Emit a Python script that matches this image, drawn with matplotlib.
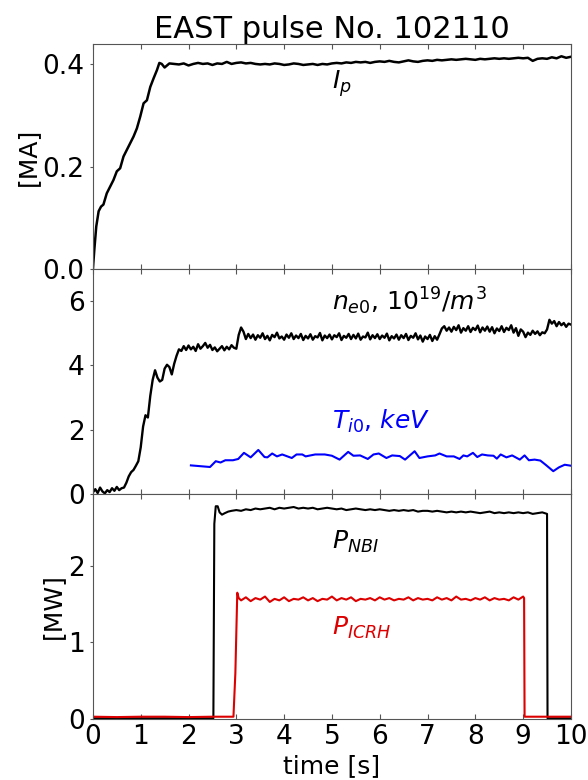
import numpy as np
import matplotlib
matplotlib.use("Agg")
import matplotlib.pyplot as plt

# plasma current, MA
ip_ramp_t = [0, 0.03, 0.07, 0.12, 0.17, 0.22, 0.29, 0.36, 0.43, 0.50, 0.57, 0.64,
             0.71, 0.78, 0.85, 0.92, 0.99, 1.06, 1.13, 1.20, 1.27, 1.34, 1.39, 1.44]
ip_ramp = [0, 0.038, 0.083, 0.113, 0.122, 0.126, 0.148, 0.161, 0.174, 0.191, 0.197, 0.220,
           0.233, 0.246, 0.259, 0.275, 0.298, 0.324, 0.330, 0.356, 0.373, 0.389, 0.403, 0.401]
ip_flat = [0.394, 0.402, 0.401, 0.400, 0.402, 0.398, 0.401, 0.403, 0.401, 0.402,
           0.399, 0.402, 0.401, 0.405, 0.401, 0.403, 0.404, 0.402, 0.403, 0.401,
           0.400, 0.401, 0.400, 0.402, 0.401, 0.399, 0.400, 0.402, 0.401, 0.399,
           0.400, 0.401, 0.399, 0.401, 0.400, 0.402, 0.403, 0.402, 0.404, 0.403,
           0.405, 0.404, 0.405, 0.403, 0.405, 0.406, 0.405, 0.407, 0.405, 0.404,
           0.406, 0.408, 0.406, 0.405, 0.407, 0.408, 0.407, 0.409, 0.408, 0.409,
           0.410, 0.409, 0.410, 0.411, 0.410, 0.409, 0.411, 0.410, 0.411, 0.412,
           0.411, 0.412, 0.411, 0.412, 0.413, 0.412, 0.413, 0.407, 0.411, 0.412,
           0.411, 0.414, 0.412, 0.416, 0.413, 0.415]
ip_flat_t = np.linspace(1.5, 10.0, len(ip_flat))

# central density, 1e19 m^-3 (0.05 s samples)
ne0 = [0.05, 0.15, 0.03, 0.20, 0.08, 0.02, 0.12, 0.06, 0.18, 0.10,
       0.22, 0.12, 0.18, 0.20, 0.35, 0.55, 0.68, 0.75, 0.88, 1.02,
       1.45, 2.10, 2.45, 2.38, 3.05, 3.55, 3.85, 3.62, 3.50, 3.55,
       3.90, 4.02, 3.95, 3.72, 4.05, 4.30, 4.50, 4.45, 4.60, 4.48,
       4.62, 4.50, 4.58, 4.45, 4.66, 4.52, 4.60, 4.70, 4.55, 4.64,
       4.48, 4.56, 4.44, 4.52, 4.60, 4.47, 4.58, 4.50, 4.63, 4.55,
       4.52, 4.95, 5.18, 5.05, 4.82, 4.98, 4.85, 4.96, 4.80, 4.94,
       4.86, 5.00, 4.82, 4.92, 4.78, 4.95, 4.88, 5.02, 4.84, 4.90,
       4.80, 4.96, 4.86, 5.00, 4.82, 4.93, 4.85, 4.98, 4.79, 4.92,
       4.84, 4.97, 4.80, 4.91, 4.87, 5.01, 4.78, 4.93, 4.85, 4.96,
       4.81, 4.94, 4.88, 5.00, 4.79, 4.92, 4.86, 4.98, 4.82, 4.95,
       4.84, 4.99, 4.80, 4.90, 4.87, 5.02, 4.81, 4.94, 4.85, 4.97,
       4.82, 4.93, 4.86, 4.99, 4.78, 4.91, 4.84, 4.96, 4.80, 4.94,
       4.85, 4.98, 4.79, 4.92, 4.86, 5.00, 4.81, 4.93, 4.74, 4.90,
       4.82, 4.95, 4.76, 4.91, 4.80, 4.97, 5.15, 5.22, 5.08, 5.18,
       5.05, 5.20, 5.10, 5.25, 5.02, 5.16, 5.08, 5.22, 5.04, 5.17,
       5.10, 5.24, 5.03, 5.18, 5.08, 5.21, 5.05, 5.19, 5.00, 5.15,
       5.07, 5.22, 5.04, 5.17, 5.10, 5.25, 5.02, 5.16, 4.92, 5.12,
       5.05, 4.88, 5.02, 4.95, 5.08, 4.98, 5.06, 4.94, 5.03, 5.00,
       5.12, 5.42, 5.30, 5.38, 5.22, 5.35, 5.25, 5.32, 5.20, 5.30,
       5.27]
ne0_t = np.linspace(0.0, 10.0, len(ne0))

# central ion temperature, keV
ti0_t = [2.05, 2.45, 2.57, 2.67, 2.77, 2.93, 3.04, 3.16, 3.30, 3.46, 3.59, 3.65, 3.75, 3.85,
         3.96, 4.16, 4.26, 4.38, 4.45, 4.65, 4.85, 5.00, 5.16, 5.34, 5.45, 5.59, 5.75, 5.87,
         5.98, 6.14, 6.26, 6.42, 6.53, 6.73, 6.83, 7.00, 7.16, 7.25, 7.40, 7.55, 7.67, 7.75,
         7.83, 7.95, 8.04, 8.14, 8.26, 8.38, 8.45, 8.53, 8.65, 8.77, 8.93, 9.03, 9.12, 9.24,
         9.36, 9.47, 9.63, 9.75, 9.87, 10.0]
ti0 = [0.89, 0.84, 1.02, 0.98, 1.05, 1.05, 1.09, 1.28, 1.14, 1.37, 1.15, 1.14, 1.26, 1.17,
       1.23, 1.12, 1.23, 1.23, 1.17, 1.23, 1.23, 1.19, 1.07, 1.31, 1.19, 1.20, 1.09, 1.23,
       1.26, 1.12, 1.20, 1.18, 1.07, 1.33, 1.12, 1.17, 1.20, 1.26, 1.17, 1.17, 1.09, 1.20,
       1.17, 1.28, 1.15, 1.23, 1.20, 1.19, 1.10, 1.23, 1.14, 1.20, 1.07, 1.20, 1.05, 1.07,
       1.04, 0.91, 0.71, 0.83, 0.91, 0.88]

# NBI power, MW
nbi_t = ([0, 2.52, 2.54, 2.57, 2.61, 2.65, 2.70, 2.76, 2.83, 2.90]
         + list(np.linspace(3.0, 9.4, 65)) + [9.50, 9.51, 10.0])
nbi = ([0.01, 0.01, 2.55, 2.78, 2.78, 2.70, 2.67, 2.69, 2.71, 2.72]
       + [2.73, 2.72, 2.74, 2.73, 2.75, 2.74, 2.75, 2.76, 2.74, 2.76,
          2.75, 2.76, 2.77, 2.75, 2.76, 2.75, 2.76, 2.74, 2.75, 2.76,
          2.75, 2.74, 2.75, 2.73, 2.74, 2.75, 2.74, 2.73, 2.74, 2.73,
          2.74, 2.73, 2.72, 2.73, 2.72, 2.73, 2.72, 2.73, 2.71, 2.72,
          2.72, 2.71, 2.72, 2.71, 2.70, 2.71, 2.70, 2.71, 2.70, 2.71,
          2.70, 2.69, 2.70, 2.71, 2.69, 2.70, 2.69, 2.70, 2.69, 2.70,
          2.69, 2.70, 2.68, 2.69, 2.70]
       + [2.68, 0.01, 0.01])

# ICRH power, MW
icrh_t = ([0, 0.5, 1.0, 1.5, 2.0, 2.5, 2.94, 2.98, 3.02, 3.05]
          + list(np.linspace(3.1, 8.9, 59)) + [9.0, 9.02, 9.03, 9.5, 10.0])
icrh = ([0.03, 0.025, 0.03, 0.03, 0.025, 0.03, 0.03, 0.6, 1.65, 1.58]
        + [1.55, 1.59, 1.54, 1.58, 1.56, 1.60, 1.53, 1.57, 1.55, 1.59,
           1.54, 1.57, 1.56, 1.59, 1.55, 1.58, 1.54, 1.57, 1.56, 1.60,
           1.55, 1.58, 1.56, 1.59, 1.54, 1.57, 1.56, 1.58, 1.55, 1.59,
           1.56, 1.58, 1.55, 1.57, 1.56, 1.59, 1.55, 1.58, 1.56, 1.57,
           1.55, 1.59, 1.56, 1.58, 1.55, 1.60, 1.56, 1.57, 1.55, 1.58,
           1.56, 1.59, 1.55, 1.58, 1.56, 1.57, 1.55, 1.59, 1.56]
        + [1.60, 1.58, 0.03, 0.03, 0.03])

fs = 18
tfs = 19
spine_col = "#555555"

fig = plt.figure(figsize=(5.88, 7.8), dpi=100)
gs = fig.add_gridspec(3, 1, left=0.158, right=0.971, top=0.9436, bottom=0.0782, hspace=0)
ax1 = fig.add_subplot(gs[0])
ax2 = fig.add_subplot(gs[1], sharex=ax1)
ax3 = fig.add_subplot(gs[2], sharex=ax1)

ax1.plot(list(ip_ramp_t) + list(ip_flat_t), ip_ramp + ip_flat, color="black", lw=1.8)
ax1.set_ylim(0, 0.44)
ax1.set_yticks([0.0, 0.2, 0.4])
ax1.set_ylabel("[MA]", fontsize=fs, labelpad=2)
ax1.text(5.0, 0.362, "$I_p$", fontsize=fs, va="center")
ax1.set_title("EAST pulse No. 102110", fontsize=22, pad=3)

ax2.plot(ne0_t, ne0, color="black", lw=1.7)
ax2.plot(ti0_t, ti0, color="blue", lw=1.5)
ax2.set_ylim(0, 7)
ax2.set_yticks([0, 2, 4, 6])
ax2.text(5.0, 6.0, "$n_{e0}$, $10^{19}/m^3$", fontsize=fs, va="center")
ax2.text(5.0, 2.26, "$T_{i0}$, $keV$", fontsize=fs, va="center", color="blue")

ax3.plot(nbi_t, nbi, color="black", lw=1.5)
ax3.plot(icrh_t, icrh, color="#dd0000", lw=1.5)
ax3.set_ylim(0, 2.94)
ax3.set_yticks([0, 1, 2])
ax3.set_ylabel("[MW]", fontsize=fs, labelpad=2)
ax3.text(5.0, 2.31, "$P_{NBI}$", fontsize=fs, va="center")
ax3.text(5.0, 1.19, "$P_{ICRH}$", fontsize=fs, va="center", color="#dd0000")
ax3.set_xlim(0, 10)
ax3.set_xticks(range(0, 11))
ax3.set_xlabel("time [s]", fontsize=fs, labelpad=3)

for ax in (ax1, ax2, ax3):
    for s in ax.spines.values():
        s.set_color(spine_col)
    ax.tick_params(axis="x", direction="in", top=True, bottom=True, color=spine_col,
                   labelsize=tfs)
    ax.tick_params(axis="y", direction="out", length=2.5, color=spine_col, labelsize=tfs)
for ax in (ax1, ax2):
    ax.tick_params(axis="x", labelbottom=False)

fig.savefig("out.png", dpi=100)
